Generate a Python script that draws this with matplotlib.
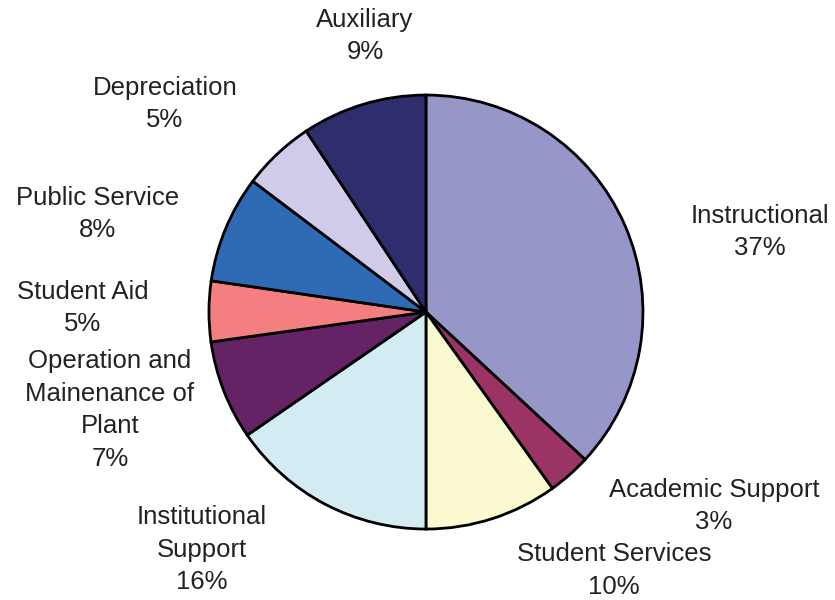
import matplotlib
matplotlib.use("Agg")
import matplotlib.pyplot as plt

categories = ["Instructional", "Academic Support", "Student Services",
              "Institutional\nSupport", "Operation and\nMainenance of\nPlant",
              "Student Aid", "Public Service", "Depreciation", "Auxiliary"]
shares = [36.9, 3.2, 9.9, 15.4, 7.4, 4.5, 8.0, 5.4, 9.3]
shown_pct = [37, 3, 10, 16, 7, 5, 8, 5, 9]
colors = ["#9696c8", "#9b3465", "#fbf9d0", "#d3ecf3", "#652366",
          "#f47f80", "#2e6bb4", "#cfcbe8", "#2e2e6e"]

# label centres, in pie-radius units from the centre
label_xy = [(1.539, 0.369), (1.327, -0.894), (0.866, -1.19),
            (-1.032, -1.095), (-1.456, -0.452), (-1.581, 0.018),
            (-1.512, 0.452), (-1.203, 0.959), (-0.281, 1.272)]

plt.rcParams["font.family"] = ["Liberation Sans", "DejaVu Sans"]

fig = plt.figure(figsize=(8.35, 6), dpi=100)
ax = fig.add_axes([0, 0, 1, 1])

ax.pie(shares, colors=colors, startangle=90, counterclock=False,
       radius=1, wedgeprops=dict(edgecolor="black", linewidth=2))

for name, p, (x, y) in zip(categories, shown_pct, label_xy):
    ax.text(x, y, f"{name}\n{p}%", ha="center", va="center",
            fontsize=18.5, color="#222222", linespacing=1.45)

ax.set_xlim(-1.963, 1.885)
ax.set_ylim(-1.327, 1.438)
ax.set_aspect("equal")
ax.axis("off")

fig.savefig("out.png", dpi=100)
